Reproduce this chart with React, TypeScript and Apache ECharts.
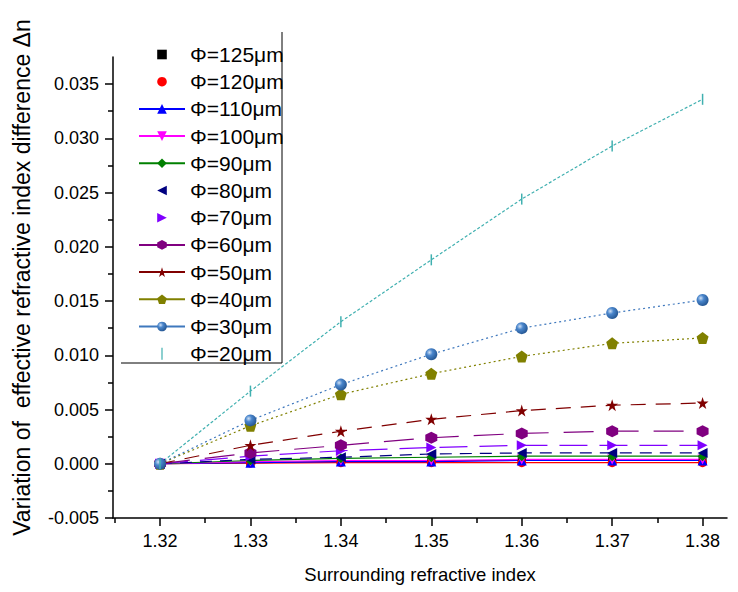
import React, { useEffect, useRef } from "react";
import * as echarts from "echarts";

// ---- data ----
const refractiveIndex = [1.32, 1.33, 1.34, 1.35, 1.36, 1.37, 1.38];

const phi125 = [0, 0.0001, 0.0002, 0.0003, 0.0003, 0.0003, 0.0003];
const phi120 = [0, 0.00005, 0.0001, 0.0001, 0.0001, 0.0001, 0.0001];
const phi110 = [0, 0.0001, 0.0002, 0.0002, 0.0003, 0.0003, 0.0003];
const phi100 = [0, 0.0002, 0.0003, 0.0003, 0.0004, 0.0004, 0.0004];
const phi90 = [0, 0.0003, 0.0005, 0.0006, 0.0007, 0.0007, 0.0007];
const phi80 = [0, 0.0004, 0.0006, 0.0009, 0.001, 0.001, 0.001];
const phi70 = [0, 0.0007, 0.0012, 0.0015, 0.0017, 0.0017, 0.0017];
const phi60 = [0, 0.001, 0.0017, 0.0024, 0.0028, 0.003, 0.003];
const phi50 = [0, 0.0017, 0.003, 0.0041, 0.0049, 0.0054, 0.0056];
const phi40 = [0, 0.0035, 0.0064, 0.0083, 0.0099, 0.0111, 0.0116];
const phi30 = [0, 0.004, 0.0073, 0.0101, 0.0125, 0.0139, 0.0151];
const phi20 = [0, 0.0067, 0.0131, 0.0188, 0.0244, 0.0293, 0.0336];

const seriesNames = [
  "Φ=125μm", "Φ=120μm", "Φ=110μm", "Φ=100μm", "Φ=90μm", "Φ=80μm",
  "Φ=70μm", "Φ=60μm", "Φ=50μm", "Φ=40μm", "Φ=30μm", "Φ=20μm",
];
const seriesValues = [phi125, phi120, phi110, phi100, phi90, phi80, phi70, phi60, phi50, phi40, phi30, phi20];

const xMajorTicks = [1.32, 1.33, 1.34, 1.35, 1.36, 1.37, 1.38];
const xMinorTicks = [1.315, 1.325, 1.335, 1.345, 1.355, 1.365, 1.375];
const yMajorTicks = [-0.005, 0, 0.005, 0.01, 0.015, 0.02, 0.025, 0.03, 0.035];
const yMinorTicks = [-0.0025, 0.0025, 0.0075, 0.0125, 0.0175, 0.0225, 0.0275, 0.0325];

// ---- styles ----
const STAR = "path://M5,0 L6.18,3.62 L10,3.62 L6.91,5.86 L8.09,9.5 L5,7.26 L1.91,9.5 L3.09,5.86 L0,3.62 L3.82,3.62 Z";
const HEX = "path://M5,0 L9.33,2.5 L9.33,7.5 L5,10 L0.67,7.5 L0.67,2.5 Z";
const PENT = "path://M5,0 L10,3.8 L8.1,10 L1.9,10 L0,3.8 Z";
const DOWN = "path://M0,0 L10,0 L5,9 Z";
const LEFT = "path://M10,0 L10,10 L0,5 Z";
const RIGHT = "path://M0,0 L10,5 L0,10 Z";
const BAR = "path://M0,0 L1,0 L1,10 L0,10 Z";

const styles: any[] = [
  { color: "#000000", symbol: "rect", size: 8, line: "solid", noLegendLine: true },
  { color: "#ff0000", symbol: "circle", size: 9, line: "solid", noLegendLine: true },
  { color: "#0000ff", symbol: "triangle", size: 10, line: "solid" },
  { color: "#ff00ff", symbol: DOWN, size: 10, line: "solid" },
  { color: "#008000", symbol: "diamond", size: 10, line: "solid" },
  { color: "#000080", symbol: LEFT, size: 10, line: [12, 8], noLegendLine: true },
  { color: "#8000ff", symbol: RIGHT, size: 10, line: [28, 12], noLegendLine: true },
  { color: "#800080", symbol: HEX, size: 12, line: [30, 15] },
  { color: "#800000", symbol: STAR, size: 12, line: [15, 10] },
  { color: "#808000", symbol: PENT, size: 12, line: [2, 3] },
  {
    color: "#3f78bd",
    fill: {
      type: "radial", x: 0.35, y: 0.35, r: 0.75,
      colorStops: [
        { offset: 0, color: "#cfe0f5" },
        { offset: 0.35, color: "#4a86cc" },
        { offset: 1, color: "#1f4f8a" },
      ],
    },
    symbol: "circle", size: 12, line: [2, 3],
  },
  { color: "#40b0b0", symbol: BAR, size: [1.5, 11], line: [3, 2], legendIcon: BAR },
];

const FONT = "'Liberation Sans', Arial, sans-serif";
const X_MIN = 1.3148;
const X_MAX = 1.3827;

export default function App() {
  const ref = useRef<HTMLDivElement>(null);

  useEffect(() => {
    if (!ref.current) return;
    const chart = echarts.init(ref.current, null, { renderer: "svg" });

    const series = seriesNames.map((name, i) => {
      const st = styles[i];
      return {
        name,
        type: "line",
        xAxisIndex: 0,
        yAxisIndex: 0,
        data: refractiveIndex.map((x, j) => [x, seriesValues[i][j]]),
        symbol: st.symbol,
        symbolSize: st.size,
        symbolKeepAspect: false,
        showSymbol: true,
        color: st.color,
        itemStyle: { color: st.fill || st.color },
        lineStyle: { color: st.color, width: 1.2, type: st.line },
      };
    });

    const legendData = seriesNames.map((name, i) => {
      const st = styles[i];
      const item: any = { name };
      if (st.noLegendLine) item.lineStyle = { opacity: 0 };
      if (st.legendIcon) item.icon = st.legendIcon;
      return item;
    });

    chart.setOption({
      animation: false,
      backgroundColor: "#ffffff",
      textStyle: { fontFamily: FONT },
      grid: { left: 113, top: 57, width: 614, height: 461, containLabel: false },
      legend: {
        orient: "vertical",
        left: 133,
        top: 39,
        itemWidth: 46,
        itemHeight: 12,
        itemGap: 6.2,
        data: legendData,
        lineStyle: { type: "solid" },
        textStyle: { color: "#000", fontSize: 21, fontFamily: FONT },
        selectedMode: false,
      },
      xAxis: [
        {
          type: "value",
          min: X_MIN,
          max: X_MAX,
          position: "bottom",
          splitLine: { show: false },
          axisLine: { show: true, onZero: false, lineStyle: { color: "#000", width: 1.5 } },
          axisTick: { show: true, customValues: xMajorTicks, length: 8, lineStyle: { color: "#000", width: 1.5 } },
          axisLabel: {
            customValues: xMajorTicks,
            formatter: (v: number) => v.toFixed(2),
            color: "#000",
            fontSize: 18,
            margin: 14,
            fontFamily: FONT,
          },
          name: "Surrounding refractive index",
          nameLocation: "middle",
          nameGap: 47,
          nameTextStyle: { color: "#000", fontSize: 18.5, fontFamily: FONT },
        },
        {
          type: "value",
          min: X_MIN,
          max: X_MAX,
          position: "bottom",
          offset: 0,
          splitLine: { show: false },
          axisLine: { show: false, onZero: false },
          axisTick: { show: true, customValues: xMinorTicks, length: 5, lineStyle: { color: "#000", width: 1.5 } },
          axisLabel: { show: false },
        },
      ],
      yAxis: [
        {
          type: "value",
          min: -0.005,
          max: 0.0375,
          position: "left",
          splitLine: { show: false },
          axisLine: { show: true, onZero: false, lineStyle: { color: "#000", width: 1.5 } },
          axisTick: { show: true, customValues: yMajorTicks, length: 8, lineStyle: { color: "#000", width: 1.5 } },
          axisLabel: {
            customValues: yMajorTicks,
            formatter: (v: number) => v.toFixed(3),
            color: "#000",
            fontSize: 18,
            margin: 14,
            fontFamily: FONT,
          },
          name: "Variation of  effective refractive index difference Δn",
          nameLocation: "middle",
          nameGap: 80,
          nameTextStyle: { color: "#000", fontSize: 23, fontFamily: FONT, padding: [0, 0, 0, 20] },
        },
        {
          type: "value",
          min: -0.005,
          max: 0.0375,
          position: "left",
          offset: 0,
          splitLine: { show: false },
          axisLine: { show: false, onZero: false },
          axisTick: { show: true, customValues: yMinorTicks, length: 5, lineStyle: { color: "#000", width: 1.5 } },
          axisLabel: { show: false },
        },
      ],
      graphic: [
        { type: "line", shape: { x1: 282, y1: 32, x2: 282, y2: 363 }, style: { stroke: "#000", lineWidth: 1 }, z: 10 },
        { type: "line", shape: { x1: 121, y1: 363, x2: 282, y2: 363 }, style: { stroke: "#000", lineWidth: 1 }, z: 10 },
      ],
      series,
    });

    return () => chart.dispose();
  }, []);

  return (
    <div
      ref={ref}
      style={{ position: "fixed", left: 0, top: 0, width: 738, height: 592, background: "#fff" }}
    />
  );
}
